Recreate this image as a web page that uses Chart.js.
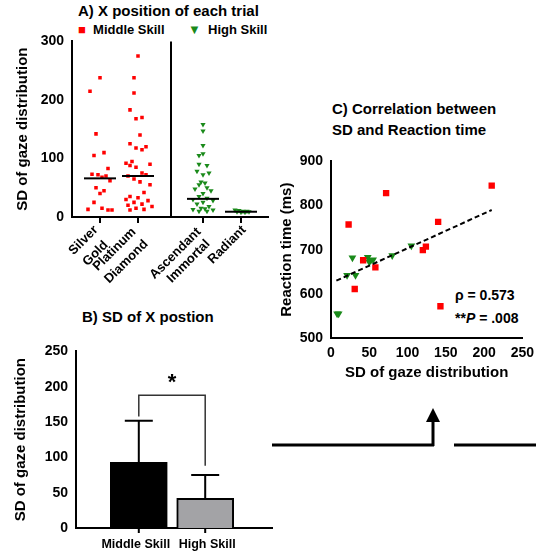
<!DOCTYPE html>
<html><head><meta charset="utf-8">
<script src="https://cdn.jsdelivr.net/npm/chart.js@4"></script>
<style>
body{margin:0;background:#fff;font-family:"Liberation Sans",Arial,sans-serif;}
canvas{position:absolute;}
.t{position:absolute;font-weight:bold;color:#000;white-space:nowrap;}
</style></head><body>
<div class="t" style="left:78px;top:2px;font-size:15px;">A) X position of each trial</div>
<div class="t" style="left:78px;top:22px;font-size:13px;"><span style="color:#f00">■</span>&nbsp; Middle Skill</div>
<div class="t" style="left:188px;top:22px;font-size:13px;"><span style="color:#1a8a1a">▼</span>&nbsp; High Skill</div>
<div class="t" style="left:82px;top:308px;font-size:15px;">B) SD of X postion</div>
<div class="t" style="left:332px;top:98px;font-size:15px;line-height:21px;">C) Correlation between<br>SD and Reaction time</div>
<div class="t" style="left:455px;top:287px;font-size:14px;">ρ = 0.573</div>
<div class="t" style="left:455px;top:310px;font-size:14px;">**<i>P</i> = .008</div>
<svg style="position:absolute;left:0;top:0" width="536" height="559">
<line x1="272" y1="445" x2="434" y2="445" stroke="#000" stroke-width="3"/>
<line x1="433" y1="446" x2="433" y2="418" stroke="#000" stroke-width="3"/>
<polygon points="426,422 440,422 433,408" fill="#000"/>
<line x1="454" y1="445" x2="536" y2="445" stroke="#000" stroke-width="3"/>
</svg>
<canvas id="a" width="275" height="270" style="left:0;top:30px"></canvas>
<canvas id="b" width="280" height="219" style="left:0;top:340px"></canvas>
<canvas id="c" width="266" height="250" style="left:270px;top:150px"></canvas>
<script>
// ---- Panel A data ----
const aMidX=[28,18,24,32,22,36,20,26,34,30,38,24,32,28,22,30,16,36,40,
 66,62,62,58,70,64,68,58,74,64,70,60,54,78,58,64,70,74,56,62,68,78,72,58,66,54,76,62,70,56,80,64,72,58];
const aMidY=[238,215,142,110,105,83,73,72,70,68,62,50,45,40,25,15,13,12,12,
 275,238,212,183,170,168,140,125,120,118,115,95,92,90,88,85,75,72,70,65,60,55,42,35,33,30,28,25,22,20,18,15,13,12];
const aHighX=[131,131,131,131,127,127,135,125,137,131,129,133,127,135,123,139,131,127,135,121,141,131,125,137,129,133,121,141,127,135,
 163,167,171,175,165,173,169,177];
const aHighY=[158,147,122,108,105,90,88,78,75,72,60,58,55,50,48,45,40,35,32,30,28,25,22,18,15,14,13,12,10,10,
 12,11,10,10,9,8,8,9];
const aMedX=[28,66,131,169];
const aMedY=[66,70,31,9];
const aTicks=[28,66,131,169];
const aLabels=['Silver','Gold','Platinum','Diamond','Ascendant','Immortal','Radiant'];
const aLabelX=[96,106,134,146,199,208,244];
const aLabelY=[228,243,230,242,230,242,228];
// ---- Panel B data ----
const bCats=['Middle Skill','High Skill'];
const bMean=[93,42];
const bSD=[59,33];
const bX=[54,137];
const bColors=['#000000','#a3a3a6'];
// ---- Panel C data ----
const cMidX=[23,72,210,140,42,58,120,124,31,143];
const cMidY=[757,828,845,763,676,660,699,707,611,572];
const cHighX=[8,10,21,28,32,48,50,55,80,105,52];
const cHighY=[555,555,642,682,642,683,672,677,687,709,676];
const cFitX=[7,210];
const cFitY=[630,790];

Chart.defaults.font.family='"Liberation Sans",Arial,sans-serif';
Chart.defaults.font.weight='bold';
Chart.defaults.color='#000';
const F={size:14,weight:'bold'};
function yAx(min,max,step,w,title){return {min,max,ticks:{stepSize:step,font:F,color:'#000',padding:3},
 grid:{display:false,drawTicks:true,tickLength:5,tickColor:'#000'},border:{color:'#000',width:2},
 title:{display:true,text:title,font:{size:15,weight:'bold'},padding:2},afterFit(s){s.width=w;}};}
const base={responsive:false,devicePixelRatio:1,animation:false,plugins:{legend:{display:false},tooltip:{enabled:false}}};

// Panel A
new Chart(document.getElementById('a'),{type:'scatter',
 data:{datasets:[
  {data:aMidX.map((x,i)=>({x,y:aMidY[i]})),pointStyle:'rect',radius:2.5,backgroundColor:'#f00',borderWidth:0},
  {data:aHighX.map((x,i)=>({x,y:aHighY[i]})),pointStyle:'triangle',rotation:180,radius:3,backgroundColor:'#1a8a1a',borderWidth:0}]},
 options:{...base,layout:{padding:{top:7,right:7,left:12,bottom:0}},
  scales:{x:{type:'linear',min:0,max:196,ticks:{display:false},grid:{display:false},border:{color:'#000',width:2},afterFit(s){s.height=83;}},
   y:yAx(0,300,100,60,'SD of gaze distribution')}},
 plugins:[{id:'a',afterDraw(ch){const c=ch.ctx,x=ch.scales.x,y=ch.scales.y;c.save();
  c.strokeStyle='#000';c.lineWidth=2;
  c.beginPath();c.moveTo(x.getPixelForValue(99),y.top);c.lineTo(x.getPixelForValue(99),y.bottom);c.stroke();
  aTicks.forEach(v=>{c.beginPath();c.moveTo(x.getPixelForValue(v),y.bottom);c.lineTo(x.getPixelForValue(v),y.bottom+6);c.stroke();});
  aMedX.forEach((v,i)=>{c.beginPath();c.moveTo(x.getPixelForValue(v-16),y.getPixelForValue(aMedY[i]));c.lineTo(x.getPixelForValue(v+16),y.getPixelForValue(aMedY[i]));c.stroke();});
  c.font='bold 13px "Liberation Sans",Arial';c.fillStyle='#000';c.textAlign='right';c.textBaseline='middle';
  aLabels.forEach((t,i)=>{c.save();c.translate(aLabelX[i],aLabelY[i]-30);c.rotate(-Math.PI/4);c.fillText(t,0,0);c.restore();});
  c.restore();}}]});

// Panel B
new Chart(document.getElementById('b'),{type:'bar',
 data:{datasets:[{data:bX.map((x,i)=>({x,y:bMean[i]})),backgroundColor:bColors,borderColor:'#000',borderWidth:2,barThickness:57}]},
 options:{...base,layout:{padding:{top:8,right:8,left:10}},
  scales:{x:{type:'linear',min:0,max:196,ticks:{display:false},grid:{display:false},border:{color:'#000',width:2},afterFit(s){s.height=31;}},
   y:yAx(0,250,50,66,'SD of gaze distribution')}},
 plugins:[{id:'b',afterDraw(ch){const c=ch.ctx,x=ch.scales.x,y=ch.scales.y;c.save();
  c.strokeStyle='#000';c.lineWidth=2;
  bX.forEach((v,i)=>{const px=x.getPixelForValue(v),t=y.getPixelForValue(bMean[i]+bSD[i]);
   c.beginPath();c.moveTo(px,y.getPixelForValue(bMean[i]));c.lineTo(px,t);c.moveTo(px-14,t);c.lineTo(px+14,t);
   c.moveTo(px,y.bottom);c.lineTo(px,y.bottom+5);c.stroke();});
  c.lineWidth=1.5;c.strokeStyle='#333';
  const l=x.getPixelForValue(bX[0]),r=x.getPixelForValue(bX[1]),top=y.getPixelForValue(188);
  c.beginPath();c.moveTo(l,y.getPixelForValue(158));c.lineTo(l,top);c.lineTo(r,top);c.lineTo(r,y.getPixelForValue(88));c.stroke();
  c.fillStyle='#000';c.font='bold 22px "Liberation Sans",Arial';c.textAlign='center';c.textBaseline='middle';
  c.fillText('*',(l+r)/2,top-12);
  c.font='bold 12.5px "Liberation Sans",Arial';c.textBaseline='top';
  bCats.forEach((t,i)=>c.fillText(t,x.getPixelForValue(bX[i])+(i?2:-3),y.bottom+10));
  c.restore();}}]});

// Panel C
new Chart(document.getElementById('c'),{type:'scatter',
 data:{datasets:[
  {type:'line',data:cFitX.map((x,i)=>({x,y:cFitY[i]})),borderColor:'#000',borderWidth:2,borderDash:[5,3],pointRadius:0},
  {data:cMidX.map((x,i)=>({x,y:cMidY[i]})),pointStyle:'rect',radius:4.5,backgroundColor:'#f00',borderWidth:0},
  {data:cHighX.map((x,i)=>({x,y:cHighY[i]})),pointStyle:'triangle',rotation:180,radius:4.5,backgroundColor:'#1a8a1a',borderWidth:0}]},
 options:{...base,layout:{padding:{top:8,right:11,bottom:14,left:6}},
  scales:{x:{type:'linear',min:0,max:250,ticks:{stepSize:50,font:F,color:'#000',padding:2},grid:{display:false,drawTicks:true,tickLength:5,tickColor:'#000'},
    border:{color:'#000',width:2},title:{display:true,text:'SD of gaze distribution',font:{size:15,weight:'bold'},padding:{top:4}},afterFit(s){s.height=48;}},
   y:yAx(500,900,100,55,'Reaction time (ms)')}}});
</script></body></html>
